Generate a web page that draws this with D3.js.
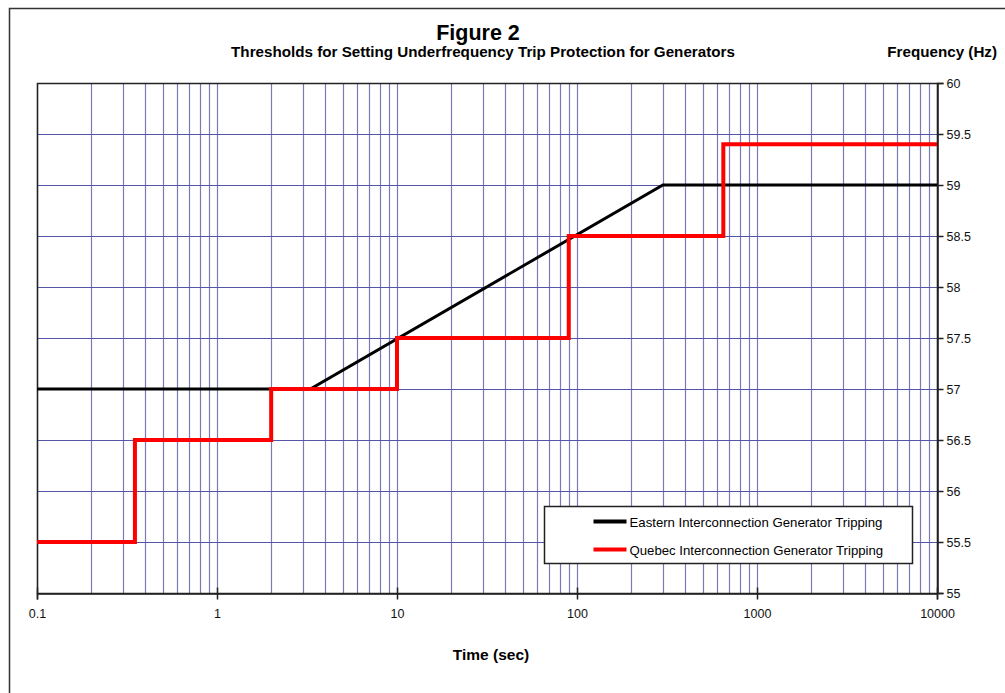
<!DOCTYPE html>
<html lang="en">
<head>
    <meta charset="UTF-8">
    <title>Figure 2</title>
    <style>
        body { margin: 0; background: #fff; }
        text { font-family: Arial, "Liberation Sans", sans-serif; }
        .grid line { stroke: #7a7ab8; stroke-width: 1.2px; }
    </style>
</head>
<body>
<script src="https://d3js.org/d3.v7.min.js"></script>
<script>

    const width = 1005;
    const height = 693;

    // time in seconds, frequency in Hz
    const easternTime = [0.1, 3.3, 300, 10000];
    const easternFreq = [57, 57, 59, 59];

    const quebecTime = [0.1, 0.35, 0.35, 2, 2, 10, 10, 90, 90, 650, 650, 10000];
    const quebecFreq = [55.5, 55.5, 56.5, 56.5, 57, 57, 57.5, 57.5, 58.5, 58.5, 59.4, 59.4];

    const xTicks = [0.1, 1, 10, 100, 1000, 10000];
    const yTicks = [55, 55.5, 56, 56.5, 57, 57.5, 58, 58.5, 59, 59.5, 60];

    const seriesNames = ['Eastern Interconnection Generator Tripping', 'Quebec Interconnection Generator Tripping'];
    const seriesColors = ['#000', '#ff0000'];

    const plotLeft = 37, plotRight = 937, plotTop = 83, plotBottom = 593;

    let svg = d3.select('body').append('svg')
        .attr('width', width)
        .attr('height', height);

    // outer frame
    svg.append('path')
        .attr('d', 'M9.5,' + height + 'V8.5H' + width)
        .attr('fill', 'none')
        .attr('stroke', '#333')
        .attr('stroke-width', 1.5);

    let x = d3.scaleLog().domain([0.1, 10000]).range([plotLeft, plotRight]);
    let y = d3.scaleLinear().domain([55, 60]).range([plotBottom, plotTop]);

    // minor log grid
    let minor = [];
    for (let e = -1; e < 4; e++) {
        for (let k = 1; k <= 9; k++) minor.push(k * Math.pow(10, e));
    }
    minor.push(10000);

    let grid = svg.append('g').attr('class', 'grid');
    grid.selectAll('line.v')
        .data(minor)
        .enter().append('line')
        .attr('class', 'v')
        .attr('x1', d => Math.round(x(d)) + 0.5)
        .attr('x2', d => Math.round(x(d)) + 0.5)
        .attr('y1', plotTop)
        .attr('y2', plotBottom);
    grid.selectAll('line.h')
        .data(yTicks)
        .enter().append('line')
        .attr('class', 'h')
        .attr('x1', plotLeft)
        .attr('x2', plotRight)
        .attr('y1', d => Math.round(y(d)) + 0.5)
        .attr('y2', d => Math.round(y(d)) + 0.5)
        .style('stroke', '#5555aa');

    // plot border
    svg.append('rect')
        .attr('x', plotLeft + 0.5)
        .attr('y', plotTop + 0.5)
        .attr('width', plotRight - plotLeft)
        .attr('height', plotBottom - plotTop)
        .attr('fill', 'none')
        .attr('stroke', '#222')
        .attr('stroke-width', 1.5);

    // axes
    let xAxis = svg.append('g')
        .attr('transform', 'translate(0,' + (plotBottom + 0.5) + ')')
        .call(d3.axisBottom(x).tickValues(xTicks).tickSize(6).tickPadding(10)
            .tickFormat(d => String(d)));
    let yAxis = svg.append('g')
        .attr('transform', 'translate(' + (plotRight + 0.5) + ',0)')
        .call(d3.axisRight(y).tickValues(yTicks).tickSize(6).tickPadding(3)
            .tickFormat(d => String(d)));

    [xAxis, yAxis].forEach(a => {
        a.select('.domain').attr('stroke', '#222').attr('stroke-width', 1.5);
        a.selectAll('.tick line').attr('stroke', '#222').attr('stroke-width', 1.5);
        a.selectAll('.tick text')
            .attr('font-size', 12.5)
            .attr('font-family', 'Arial, "Liberation Sans", sans-serif')
            .attr('fill', '#111');
    });
    xAxis.selectAll('.tick line').attr('y1', -6);

    // series
    let line = d3.line().x(d => x(d[0])).y(d => y(d[1]));
    let series = [
        d3.zip(easternTime, easternFreq),
        d3.zip(quebecTime, quebecFreq)
    ];
    svg.append('path')
        .datum(series[0])
        .attr('d', line)
        .attr('fill', 'none')
        .attr('stroke', seriesColors[0])
        .attr('stroke-width', 3);
    svg.append('path')
        .datum(series[1])
        .attr('d', line)
        .attr('fill', 'none')
        .attr('stroke', seriesColors[1])
        .attr('stroke-width', 4);

    // titles
    svg.append('text')
        .attr('x', 478).attr('y', 40)
        .attr('text-anchor', 'middle')
        .attr('font-size', 21.5).attr('font-weight', 'bold')
        .text('Figure 2');
    svg.append('text')
        .attr('x', 483).attr('y', 57)
        .attr('text-anchor', 'middle')
        .attr('font-size', 15.2).attr('font-weight', 'bold')
        .text('Thresholds for Setting Underfrequency Trip Protection for Generators');
    svg.append('text')
        .attr('x', 997).attr('y', 57)
        .attr('text-anchor', 'end')
        .attr('font-size', 15.2).attr('font-weight', 'bold')
        .text('Frequency (Hz)');
    svg.append('text')
        .attr('x', 491).attr('y', 660)
        .attr('text-anchor', 'middle')
        .attr('font-size', 15.5).attr('font-weight', 'bold')
        .text('Time (sec)');

    // legend
    let legend = svg.append('g').attr('transform', 'translate(544.5,506.5)');
    legend.append('rect')
        .attr('width', 368).attr('height', 57)
        .attr('fill', '#fff')
        .attr('stroke', '#222')
        .attr('stroke-width', 1.5);
    seriesNames.forEach((name, i) => {
        let ly = 15 + i * 28;
        legend.append('line')
            .attr('x1', 49).attr('x2', 82)
            .attr('y1', ly).attr('y2', ly)
            .attr('stroke', seriesColors[i])
            .attr('stroke-width', 4);
        legend.append('text')
            .attr('x', 85).attr('y', ly + 5)
            .attr('font-size', 13.2)
            .text(name);
    });

</script>
</body>
</html>
